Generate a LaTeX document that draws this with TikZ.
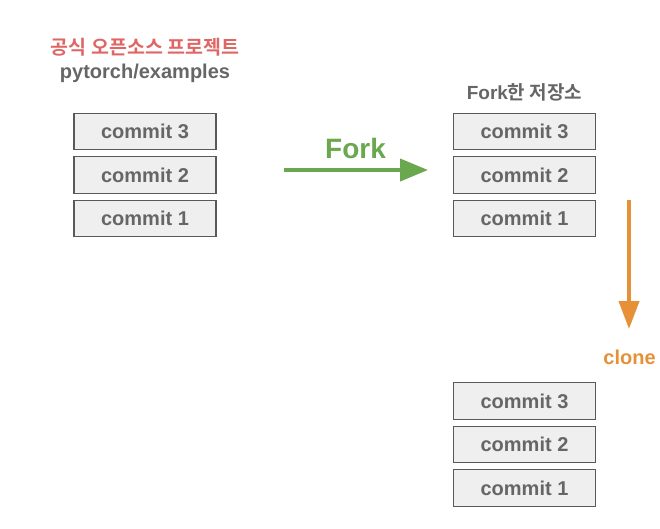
\documentclass[tikz,border=0pt]{standalone}
\usepackage{fontspec}
\setmainfont{Liberation Sans}
\newfontfamily\cjk{Noto Sans CJK KR}[BoldFont={Noto Sans CJK KR Bold}]
\usetikzlibrary{arrows.meta}
\definecolor{boxfill}{HTML}{EFEFEF}
\definecolor{boxline}{HTML}{595959}
\definecolor{txtgray}{HTML}{666666}
\definecolor{forkgreen}{HTML}{6AA84F}
\definecolor{titlered}{HTML}{E06666}
\definecolor{cloneorange}{HTML}{E69138}
\tikzset{
  commitbox/.style={draw=boxline, line width=1.2pt, fill=boxfill, minimum width=142pt, minimum height=36.5pt, inner sep=0pt,
    font=\fontsize{20}{22}\selectfont\bfseries, text=txtgray},
  lbl/.style={inner sep=0pt, font=\fontsize{20}{22}\selectfont\bfseries, text=txtgray},
  bigarrow/.style={line width=4pt}
}
\begin{document}
\begin{tikzpicture}[x=1pt,y=-1pt]
\useasboundingbox (0,0) rectangle (660,528);
% left column
\node[inner sep=0pt, text=titlered, font=\fontsize{19.5}{21}\selectfont\cjk\bfseries] (title) at (145,47) {공식 오픈소스 프로젝트};
\node[lbl] (repo) at (145,73) {pytorch/examples};
\node[commitbox] (a3) at (145,131.5) {commit 3};
\node[commitbox] (a2) at (145,175) {commit 2};
\node[commitbox] (a1) at (145,218.5) {commit 1};
% middle column
\node[lbl, font=\fontsize{19}{21}\selectfont\bfseries] (forked) at (524.5,92) {Fork{\cjk 한 저장소}};
\node[commitbox] (b3) at (524.5,131.5) {commit 3};
\node[commitbox] (b2) at (524.5,175) {commit 2};
\node[commitbox] (b1) at (524.5,218.5) {commit 1};
% bottom column
\node[commitbox] (c3) at (524.5,401) {commit 3};
\node[commitbox] (c2) at (524.5,444.5) {commit 2};
\node[commitbox] (c1) at (524.5,488) {commit 1};
% fork arrow
\coordinate (fs) at (284,170);
\coordinate (fe) at (428,170);
\draw[bigarrow, forkgreen, -{Triangle[length=28pt,width=22pt]}] (fs) -- (fe);
\node[inner sep=0pt, text=forkgreen, font=\fontsize{28}{30}\selectfont\bfseries] (forklbl) at (355.5,148) {Fork};
% clone arrow
\coordinate (cs) at (629,200);
\coordinate (ce) at (629,329);
\draw[bigarrow, cloneorange, -{Triangle[length=28pt,width=20pt]}] (cs) -- (ce);
\node[inner sep=0pt, text=cloneorange, font=\fontsize{20}{22}\selectfont\bfseries] (clonelbl) at (629.5,357) {clone};
\end{tikzpicture}
\end{document}
